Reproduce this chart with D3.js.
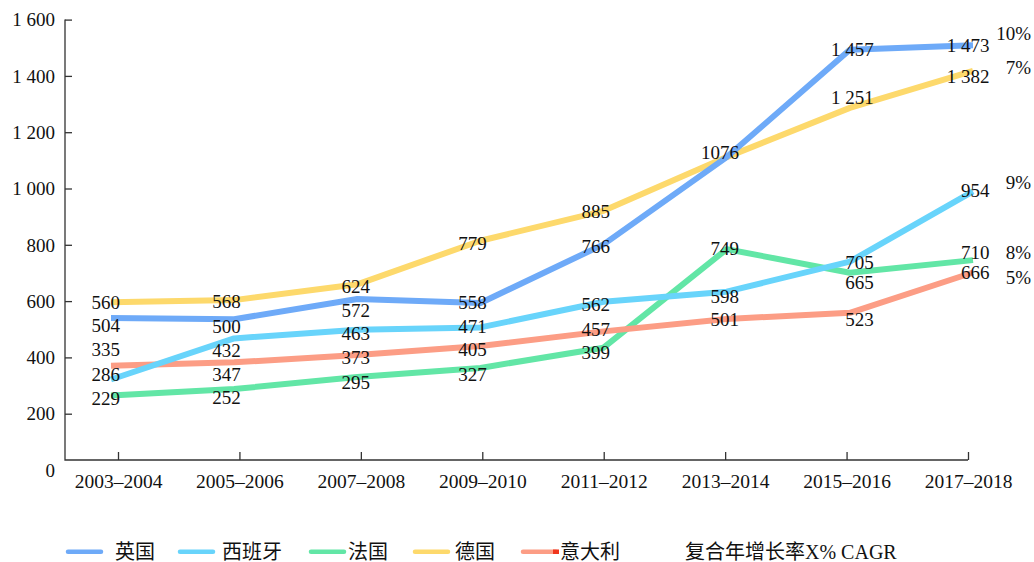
<!DOCTYPE html>
<html>
<head>
<meta charset="utf-8">
<script src="https://cdnjs.cloudflare.com/ajax/libs/d3/7.8.5/d3.min.js"></script>
<style>
  body { margin: 0; background: #fff; }
  svg text { font-family: "Liberation Serif", "Noto Sans CJK SC", serif; fill: #111; }
</style>
</head>
<body>
<div id="chart"></div>
<script>
// categories and values
const categories = ["2003–2004", "2005–2006", "2007–2008", "2009–2010",
                    "2011–2012", "2013–2014", "2015–2016", "2017–2018"];
const seriesNames = ["英国", "西班牙", "法国", "德国", "意大利"];
const ukValues      = [504, 500, 572, 558, 766, 1076, 1457, 1473];
const spainValues   = [286, 432, 463, 471, 562, 598, 705, 954];
const franceValues  = [229, 252, 295, 327, 399, 749, 665, 710];
const germanyValues = [560, 568, 624, 779, 885, 1076, 1251, 1382];
const italyValues   = [335, 347, 373, 405, 457, 501, 523, 666];
const cagrLabels = ["10%", "9%", "8%", "7%", "5%"];
const yTicks = [0, 200, 400, 600, 800, 1000, 1200, 1400, 1600];
const legendNote = "复合年增长率X% CAGR";

// layout: colours and hand placed label nudges (px)
const colors = ["#6eaaf8", "#68d4fb", "#62e6a6", "#fdd96c", "#fc9d85"];
const labelDx = [9, 6.6, 12.7, 6.3, 6.4, 12.3, 24, 16.5];
const labelDy = [
    [8, 7, 12, 0, 2, null, 0, 0],   // 英国 (2013 label shared with 德国)
    [-5, 12, 4, -1, 3, 5, 1, -1],
    [3, 9, 6, 7, 5, 0, 10, -7],
    [0, 2, 2, 3, 1, -4, -10, 6],
    [-16, 12, 3, 4, -2, 1, 7, 0]
];
const cagrDy = [-11.6, -8.4, -7.4, -3.3, 5.2];
const legendLineX = [66, 178, 309, 413, 521];
const legendTextX = [115, 222, 348, 455, 560];

const width = 1034, height = 562;
const allValues = [ukValues, spainValues, franceValues, germanyValues, italyValues];

let series = seriesNames.map((name, i) => ({name: name, values: allValues[i], color: colors[i], idx: i}));

let svg = d3.select("#chart").append("svg")
    .attr("width", width)
    .attr("height", height);

let spaceFormat = d3.formatLocale({decimal: ".", thousands: " ", grouping: [3], currency: ["", ""]}).format(",d");
// the 2013 label is printed without the group space in the source
let labelText = v => v === 1076 ? "1076" : spaceFormat(v);

// plot and axis scales are slightly offset from each other, like in the original
let xLine = d3.scalePoint().domain(categories).range([111, 973]);
let xAxisScale = d3.scalePoint().domain(categories).range([118, 968]);
let yLine = d3.scaleLinear().domain([0, 1600]).range([460, 9.6]);
let yAxisScale = d3.scaleLinear().domain([0, 1600]).range([470, 19.6]);

// y axis
let yAxisG = svg.append("g")
    .attr("transform", "translate(65,0)")
    .call(d3.axisLeft(yAxisScale).tickValues(yTicks).tickSize(-7).tickPadding(10).tickFormat(spaceFormat));
yAxisG.select(".domain").remove();
yAxisG.selectAll(".tick line").attr("stroke", "#333").attr("stroke-width", 1.3)
    .filter(d => d === 0).remove();
yAxisG.selectAll(".tick text").attr("font-size", 19).attr("dy", "0.33em");

// x axis
let xAxisG = svg.append("g")
    .attr("transform", "translate(0,460)")
    .call(d3.axisBottom(xAxisScale).tickSize(-8).tickPadding(14.5));
xAxisG.select(".domain").remove();
xAxisG.selectAll(".tick line").attr("stroke", "#333").attr("stroke-width", 1.3);
xAxisG.selectAll(".tick text").attr("font-size", 19.5);

svg.append("path")
    .attr("d", d3.line()([[65, yAxisScale(1600)], [65, yLine(0)], [xAxisScale(categories[categories.length - 1]), yLine(0)]]))
    .attr("fill", "none")
    .attr("stroke", "#333")
    .attr("stroke-width", 1.3);

// lines
let line = d3.line()
    .x((d, i) => xLine(categories[i]))
    .y(d => yLine(d));

let drawOrder = [2, 4, 3, 1, 0];
svg.append("g").selectAll("path")
    .data(drawOrder.map(i => series[i]))
    .join("path")
    .attr("d", d => line(d.values))
    .attr("fill", "none")
    .attr("stroke", d => d.color)
    .attr("stroke-width", 6)
    .attr("stroke-linejoin", "round");

// value labels
let labels = [];
series.forEach(s => {
    s.values.forEach((v, j) => {
        let dy = labelDy[s.idx][j];
        if (dy === null) return;
        labels.push({x: xLine(categories[j]) + labelDx[j], y: yLine(v) + dy, text: labelText(v)});
    });
});

svg.append("g").selectAll("text")
    .data(labels)
    .join("text")
    .attr("x", d => d.x)
    .attr("y", d => d.y)
    .attr("dy", "0.33em")
    .attr("text-anchor", "end")
    .attr("font-size", 19)
    .text(d => d.text);

// CAGR labels at the right
let last = categories[categories.length - 1];
svg.append("g").selectAll("text")
    .data(series)
    .join("text")
    .attr("x", xLine(last) + 58)
    .attr("y", d => yLine(d.values[d.values.length - 1]) + cagrDy[d.idx])
    .attr("dy", "0.33em")
    .attr("text-anchor", "end")
    .attr("font-size", 19)
    .text(d => cagrLabels[d.idx]);

// legend
let legend = svg.append("g");
series.forEach((s, i) => {
    legend.append("line")
        .attr("x1", legendLineX[i] + 2).attr("x2", legendLineX[i] + 35)
        .attr("y1", 551.7).attr("y2", 551.7)
        .attr("stroke", s.color)
        .attr("stroke-width", 4.5)
        .attr("stroke-linecap", "round");
    legend.append("text")
        .attr("x", legendTextX[i])
        .attr("y", 552)
        .attr("dominant-baseline", "central")
        .attr("font-size", 20)
        .text(s.name);
});
// small red end mark on the 意大利 legend key
legend.append("rect")
    .attr("x", legendLineX[4] + 32).attr("y", 549.5)
    .attr("width", 6).attr("height", 4.5)
    .attr("fill", "#f0351c");

legend.append("text")
    .attr("x", 685)
    .attr("y", 552)
    .attr("dominant-baseline", "central")
    .attr("font-size", 20)
    .text(legendNote);
</script>
</body>
</html>
